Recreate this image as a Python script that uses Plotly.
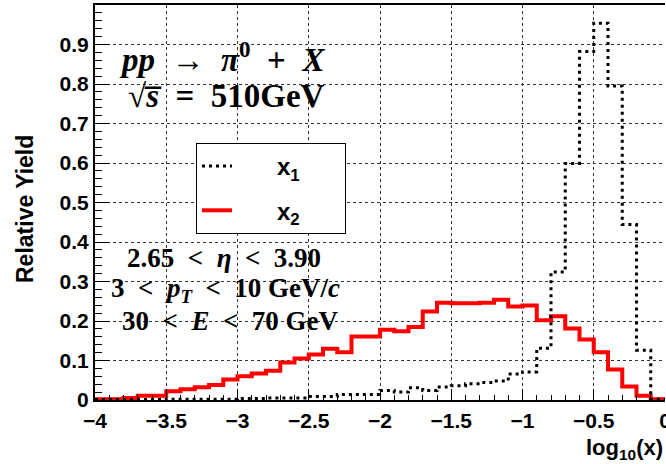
import plotly.graph_objects as go

# ---- data ----
bin_edges = [-4.0, -3.9, -3.8, -3.7, -3.6, -3.5, -3.4, -3.3, -3.2, -3.1,
             -3.0, -2.9, -2.8, -2.7, -2.6, -2.5, -2.4, -2.3, -2.2, -2.1,
             -2.0, -1.9, -1.8, -1.7, -1.6, -1.5, -1.4, -1.3, -1.2, -1.1,
             -1.0, -0.9, -0.8, -0.7, -0.6, -0.5, -0.4, -0.3, -0.2, -0.1, 0.0]

x1_yield = [0.001, 0.001, 0.001, 0.001, 0.001, 0.002, 0.002, 0.002, 0.002, 0.002,
            0.004, 0.004, 0.005, 0.005, 0.005, 0.009, 0.009, 0.014, 0.014, 0.014,
            0.024, 0.020, 0.031, 0.024, 0.033, 0.036, 0.041, 0.044, 0.048, 0.066,
            0.071, 0.131, 0.324, 0.599, 0.882, 0.954, 0.795, 0.444, 0.126, 0.002]

x2_yield = [0.002, 0.002, 0.005, 0.011, 0.011, 0.022, 0.027, 0.032, 0.038, 0.052,
            0.060, 0.067, 0.074, 0.095, 0.105, 0.115, 0.130, 0.121, 0.161, 0.161,
            0.178, 0.174, 0.185, 0.224, 0.246, 0.245, 0.245, 0.246, 0.254, 0.237,
            0.239, 0.202, 0.212, 0.181, 0.153, 0.121, 0.077, 0.034, 0.011, 0.002]

x_ticks = [-4, -3.5, -3, -2.5, -2, -1.5, -1, -0.5, 0]
y_ticks = [0, 0.1, 0.2, 0.3, 0.4, 0.5, 0.6, 0.7, 0.8, 0.9]

series_names = ["x<sub>1</sub>", "x<sub>2</sub>"]

# ---- figure ----
W, H = 666, 464
ML, MR, MT, MB = 95, 1, 5, 64
PW, PH = W - ML - MR, H - MT - MB

def px(xp):
    return (xp - ML) / PW

def py(yp):
    return (H - MB - yp) / PH

NB = "\u00a0"
fig = go.Figure()

fig.add_trace(go.Scatter(
    x=bin_edges, y=x2_yield + [x2_yield[-1]], mode="lines", line_shape="hv",
    line=dict(color="#ff0000", width=4),
    name=NB * 6 + series_names[1] + NB * 6, legendgroup="g2", legendrank=2,
))
fig.add_trace(go.Scatter(
    x=bin_edges, y=x1_yield + [x1_yield[-1]], mode="lines", line_shape="hv",
    line=dict(color="black", width=3, dash="3px,4px"),
    name=NB * 6 + series_names[0] + NB * 6, legendgroup="g1", legendrank=1,
))

tick_font = dict(family="Liberation Sans", size=21, color="black", weight="bold")

fig.update_layout(
    width=W, height=H,
    margin=dict(l=ML, r=MR, t=MT, b=MB, autoexpand=False),
    plot_bgcolor="white", paper_bgcolor="white",
    showlegend=True,
    legend=dict(
        x=px(196), y=py(143), xanchor="left", yanchor="top",
        bgcolor="white", bordercolor="black", borderwidth=1,
        font=dict(family="Liberation Sans", size=24, color="black", weight="bold"),
        traceorder="grouped", tracegroupgap=10,
    ),
    xaxis=dict(
        range=[-4, 0], tickvals=x_ticks, ticks="inside", ticklen=11, tickwidth=1,
        tickcolor="black", showline=True, linecolor="black", linewidth=2,
        mirror=True, ticklabelstandoff=1, ticklabeloverflow="allow", automargin=False,
        showgrid=True, gridcolor="#333333", griddash="dot", gridwidth=1,
        zeroline=False, tickfont=tick_font,
        minor=dict(dtick=0.1, ticks="inside", ticklen=5, tickcolor="black",
                   tickwidth=1, showgrid=False),
    ),
    yaxis=dict(
        range=[0, 1.0], tickvals=y_ticks, ticktext=["0"] + [str(v) for v in y_ticks[1:]],
        ticks="inside", ticklen=15, tickwidth=1, automargin=False,
        tickcolor="black", showline=True, linecolor="black", linewidth=2,
        showgrid=True, gridcolor="#333333", griddash="dot", gridwidth=1,
        zeroline=False, tickfont=tick_font,
        minor=dict(dtick=0.02, ticks="inside", ticklen=7, tickcolor="black",
                   tickwidth=1, showgrid=False),
    ),
)

math_font = dict(family="Liberation Serif", size=33, color="black", weight="bold")
text_font = dict(family="Liberation Serif", size=27, color="black", weight="bold")
sp = NB * 2
annots = [
    dict(text="<i>pp</i>" + sp + "→" + sp + "<i>π</i><sup>0</sup>" + sp + "+" + sp + "<i>X</i>",
         x=px(222), y=py(57), font=math_font),
    dict(text="√<i>s̅</i>" + sp + "=" + sp + "510GeV",
         x=px(226), y=py(96), font=math_font),
    dict(text="2.65" + sp + "&lt;" + sp + "<i>η</i>" + sp + "&lt;" + sp + "3.90",
         x=px(224), y=py(258), font=text_font),
    dict(text="3" + sp + "&lt;" + sp + "<i>p<sub>T</sub></i>" + sp + "&lt;" + sp + "10 GeV/<i>c</i>",
         x=px(225), y=py(290), font=text_font),
    dict(text="30" + sp + "&lt;" + sp + "<i>E</i>" + sp + "&lt;" + sp + "70 GeV",
         x=px(230), y=py(321), font=text_font),
    dict(text="Relative Yield", textangle=-90, x=px(25), y=py(209),
         font=dict(family="Liberation Sans", size=23, color="black", weight="bold")),
    dict(text="log<sub>10</sub>(x)", x=px(665), y=py(449), xanchor="right",
         font=dict(family="Liberation Sans", size=22, color="black", weight="bold")),
]
for a in annots:
    a.setdefault("xanchor", "center")
    fig.add_annotation(xref="paper", yref="paper", yanchor="middle", showarrow=False, **a)

fig.write_html("out.html", config={"displayModeBar": False},
               post_script="document.body.style.margin='0';document.body.style.overflow='hidden';")
